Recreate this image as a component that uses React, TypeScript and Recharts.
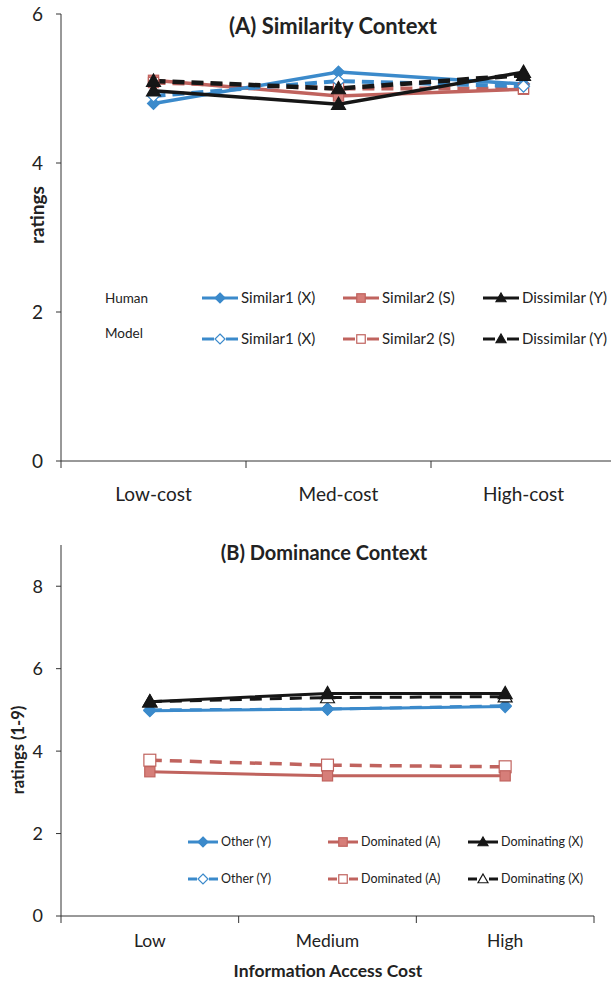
import { LineChart, Line, XAxis, YAxis } from "recharts";

// Panel A: similarity context
const costA = ["Low-cost", "Med-cost", "High-cost"];
const humanSim1A = [4.8, 5.22, 5.06];
const humanSim2A = [5.11, 4.9, 4.99];
const humanDisA = [4.97, 4.79, 5.22];
const modelSim1A = [4.9, 5.1, 5.03];
const modelSim2A = [5.08, 5.0, 5.0];
const modelDisA = [5.1, 5.0, 5.18];
const ticksA = [0, 2, 4, 6];

// Panel B: dominance context
const costB = ["Low", "Medium", "High"];
const humanOtherB = [4.98, 5.02, 5.08];
const humanDominatedB = [3.5, 3.4, 3.4];
const humanDominatingB = [5.2, 5.4, 5.4];
const modelOtherB = [5.0, 5.02, 5.1];
const modelDominatedB = [3.78, 3.66, 3.62];
const modelDominatingB = [5.2, 5.3, 5.32];
const ticksB = [0, 2, 4, 6, 8];

const rowsA = costA.map((cost, i) => ({
  cost,
  hS1: humanSim1A[i],
  hS2: humanSim2A[i],
  hD: humanDisA[i],
  mS1: modelSim1A[i],
  mS2: modelSim2A[i],
  mD: modelDisA[i],
}));

const rowsB = costB.map((cost, i) => ({
  cost,
  hO: humanOtherB[i],
  hA: humanDominatedB[i],
  hX: humanDominatingB[i],
  mO: modelOtherB[i],
  mA: modelDominatedB[i],
  mX: modelDominatingB[i],
}));

const FONT = "Lato, 'Open Sans', sans-serif";
const BLUE = "#3B8ACB";
const RED = "#C0635E";
const BLACK = "#161616";
const AXIS = "#333";

type Shape = "diamond" | "square" | "triangle";

function Marker({ shape, cx, cy, color, open, s = 6 }: { shape: Shape; cx: number; cy: number; color: string; open?: boolean; s?: number }) {
  const fill = open ? "#fff" : color;
  if (shape === "diamond") {
    return <polygon points={`${cx},${cy - s} ${cx + s},${cy} ${cx},${cy + s} ${cx - s},${cy}`} fill={fill} stroke={color} strokeWidth={1.2} />;
  }
  if (shape === "square") {
    const h = s * 0.85;
    return <rect x={cx - h} y={cy - h} width={h * 2} height={h * 2} fill={open ? "#fff" : "#D67E79"} stroke={color} strokeWidth={1.2} />;
  }
  return <polygon points={`${cx},${cy - s} ${cx + s},${cy + s * 0.75} ${cx - s},${cy + s * 0.75}`} fill={fill} stroke={color} strokeWidth={1.2} />;
}

const dotFn = (shape: Shape, color: string, open: boolean, s: number) => (p: any) =>
  p.cx == null ? <g key={p.index} /> : <Marker key={p.index} shape={shape} cx={p.cx} cy={p.cy} color={color} open={open} s={s} />;

const xTick = (hb: number, size: number, dy: number) => (p: any) => {
  const { x, y, payload, index } = p;
  return (
    <g>
      <line x1={x - hb} x2={x - hb} y1={y} y2={y + 7} stroke={AXIS} />
      {index === 2 && <line x1={x + hb} x2={x + hb} y1={y} y2={y + 7} stroke={AXIS} />}
      <text x={x} y={y + dy} textAnchor="middle" fontSize={size} fill="#222">
        {payload.value}
      </text>
    </g>
  );
};

function LegendItem({ x, y, shape, color, open, dashed, label, len, size }: any) {
  const mid = x + len / 2;
  return (
    <g>
      {dashed ? (
        <>
          <line x1={x} x2={mid - 6} y1={y} y2={y} stroke={color} strokeWidth={3} />
          <line x1={mid + 6} x2={x + len} y1={y} y2={y} stroke={color} strokeWidth={3} />
        </>
      ) : (
        <line x1={x} x2={x + len} y1={y} y2={y} stroke={color} strokeWidth={3} />
      )}
      <Marker shape={shape} cx={mid} cy={y} color={color} open={open} s={5} />
      <text x={x + len + 3} y={y} dy="0.35em" fontSize={size} fill="#222">
        {label}
      </text>
    </g>
  );
}

const HB_A = 555 / 6;
const HB_B = 533 / 6;

export default function App() {
  return (
    <div style={{ position: "absolute", left: 0, top: 0, width: 611, height: 984, overflow: "hidden", background: "#fff", fontFamily: FONT }}>
      <div style={{ position: "absolute", left: 0, top: 0 }}>
        <LineChart width={616} height={510} data={rowsA} margin={{ top: 14, right: 0, left: 0, bottom: 0 }}>
          <XAxis dataKey="cost" height={49} padding={{ left: HB_A, right: HB_A }} tickSize={0} tickMargin={0} stroke={AXIS} tick={xTick(HB_A, 19, 40)} interval={0} />
          <YAxis width={61} domain={[0, 6]} ticks={ticksA} tickSize={5} tickMargin={13} stroke={AXIS} tick={{ fontSize: 19, fill: "#222" }} />
          <Line dataKey="hS2" stroke={RED} strokeWidth={3.5} dot={dotFn("square", RED, false, 6)} isAnimationActive={false} />
          <Line dataKey="hS1" stroke={BLUE} strokeWidth={3.5} dot={dotFn("diamond", BLUE, false, 6)} isAnimationActive={false} />
          <Line dataKey="mS2" stroke={RED} strokeWidth={4} strokeDasharray="12 7" dot={dotFn("square", RED, true, 6)} isAnimationActive={false} />
          <Line dataKey="mS1" stroke={BLUE} strokeWidth={4} strokeDasharray="12 7" dot={dotFn("diamond", BLUE, true, 6)} isAnimationActive={false} />
          <Line dataKey="hD" stroke={BLACK} strokeWidth={3.5} dot={dotFn("triangle", BLACK, false, 7)} isAnimationActive={false} />
          <Line dataKey="mD" stroke={BLACK} strokeWidth={4.5} strokeDasharray="12 7" dot={dotFn("triangle", BLACK, false, 7)} isAnimationActive={false} />
        </LineChart>
        <svg width={611} height={510} style={{ position: "absolute", left: 0, top: 0, pointerEvents: "none" }}>
          <text x={333} y={26} dy="0.35em" textAnchor="middle" fontSize={22} fontWeight="bold" fill="#222">
            (A) Similarity Context
          </text>
          <text transform="translate(37,215) rotate(-90)" textAnchor="middle" dy="0.35em" fontSize={19} fontWeight="bold" fill="#222">
            ratings
          </text>
          <text x={105} y={298} dy="0.35em" fontSize={13.5} fill="#222">Human</text>
          <text x={105} y={333} dy="0.35em" fontSize={13.5} fill="#222">Model</text>
          <LegendItem x={202} y={298} len={36} size={15} shape="diamond" color={BLUE} label="Similar1 (X)" />
          <LegendItem x={343} y={298} len={36} size={15} shape="square" color={RED} label="Similar2 (S)" />
          <LegendItem x={483} y={298} len={36} size={15} shape="triangle" color={BLACK} label="Dissimilar (Y)" />
          <LegendItem x={202} y={339} len={36} size={15} shape="diamond" color={BLUE} open dashed label="Similar1 (X)" />
          <LegendItem x={343} y={339} len={36} size={15} shape="square" color={RED} open dashed label="Similar2 (S)" />
          <LegendItem x={483} y={339} len={36} size={15} shape="triangle" color={BLACK} dashed label="Dissimilar (Y)" />
        </svg>
      </div>

      <div style={{ position: "absolute", left: 0, top: 510 }}>
        <LineChart width={611} height={474} data={rowsB} margin={{ top: 35, right: 17, left: 0, bottom: 0 }}>
          <XAxis dataKey="cost" height={68} padding={{ left: HB_B, right: HB_B }} tickSize={0} tickMargin={0} stroke={AXIS} tick={xTick(HB_B, 17.5, 31)} interval={0} />
          <YAxis width={61} domain={[0, 9]} ticks={ticksB} tickSize={5} tickMargin={13} stroke={AXIS} tick={{ fontSize: 18, fill: "#222" }} />
          <Line dataKey="mA" stroke={RED} strokeWidth={3.5} strokeDasharray="12 8" dot={dotFn("square", RED, true, 7)} isAnimationActive={false} />
          <Line dataKey="hA" stroke={RED} strokeWidth={3} dot={dotFn("square", RED, false, 6)} isAnimationActive={false} />
          <Line dataKey="mO" stroke={BLUE} strokeWidth={3} strokeDasharray="12 8" dot={dotFn("diamond", BLUE, true, 6)} isAnimationActive={false} />
          <Line dataKey="hO" stroke={BLUE} strokeWidth={3} dot={dotFn("diamond", BLUE, false, 6)} isAnimationActive={false} />
          <Line dataKey="mX" stroke={BLACK} strokeWidth={3} strokeDasharray="12 8" dot={dotFn("triangle", BLACK, true, 7)} isAnimationActive={false} />
          <Line dataKey="hX" stroke={BLACK} strokeWidth={3} dot={dotFn("triangle", BLACK, false, 7)} isAnimationActive={false} />
        </LineChart>
        <svg width={611} height={474} style={{ position: "absolute", left: 0, top: 0, pointerEvents: "none" }}>
          <text x={324} y={43} dy="0.35em" textAnchor="middle" fontSize={20} fontWeight="bold" fill="#222">
            (B) Dominance Context
          </text>
          <text transform="translate(18,240) rotate(-90)" textAnchor="middle" dy="0.35em" fontSize={16.5} fontWeight="bold" fill="#222">
            ratings (1-9)
          </text>
          <text x={328} y={461} dy="0.35em" textAnchor="middle" fontSize={17.5} fontWeight="bold" fill="#222">
            Information Access Cost
          </text>
          <LegendItem x={188} y={332} len={30} size={12.5} shape="diamond" color={BLUE} label="Other (Y)" />
          <LegendItem x={328} y={332} len={30} size={12.5} shape="square" color={RED} label="Dominated (A)" />
          <LegendItem x={468} y={332} len={30} size={12.5} shape="triangle" color={BLACK} label="Dominating (X)" />
          <LegendItem x={188} y={369} len={30} size={12.5} shape="diamond" color={BLUE} open dashed label="Other (Y)" />
          <LegendItem x={328} y={369} len={30} size={12.5} shape="square" color={RED} open dashed label="Dominated (A)" />
          <LegendItem x={468} y={369} len={30} size={12.5} shape="triangle" color={BLACK} open dashed label="Dominating (X)" />
        </svg>
      </div>
    </div>
  );
}
